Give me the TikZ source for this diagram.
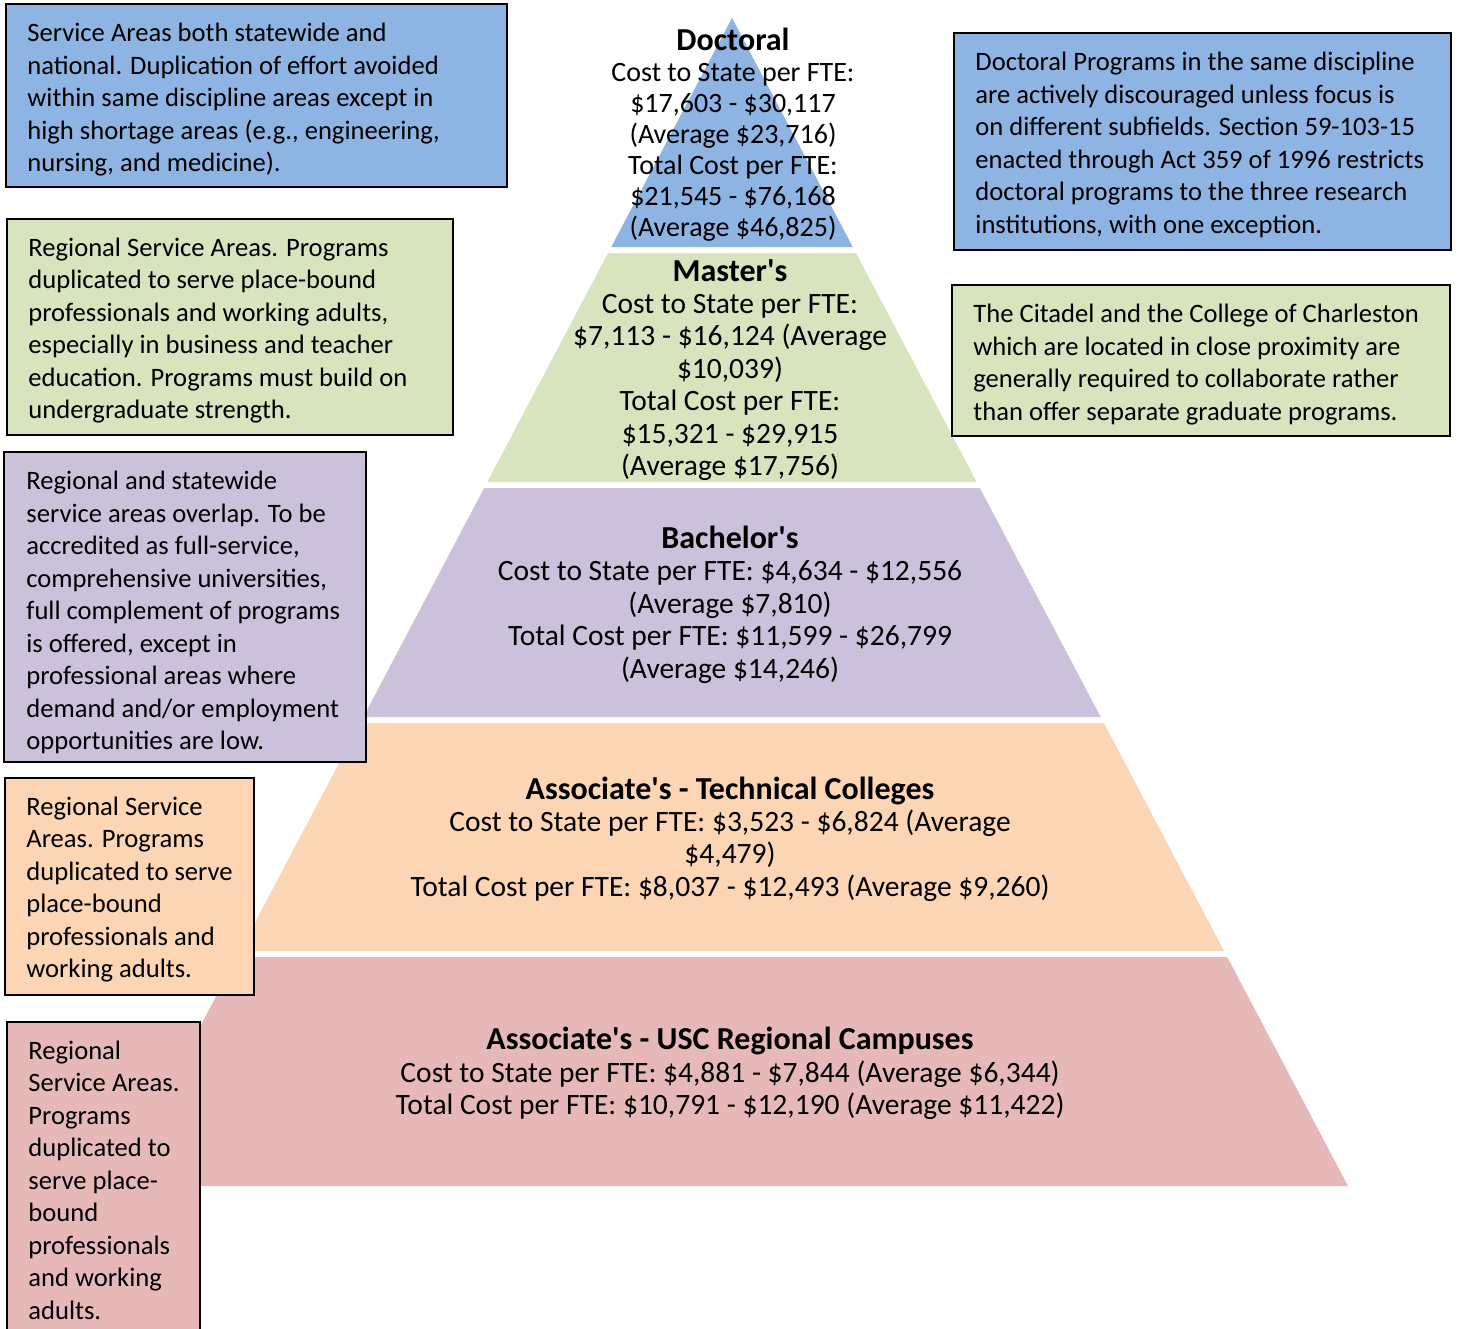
\documentclass[tikz,border=0pt]{standalone}
\usepackage{fontspec}
\newfontfamily\calfont{Carlito}
\definecolor{cblue}{HTML}{8EB4E3}
\definecolor{cgreen}{HTML}{D7E4BD}
\definecolor{cpurple}{HTML}{CCC1DA}
\definecolor{corange}{HTML}{FCD5B5}
\definecolor{cpink}{HTML}{E6B9B8}
\newcommand\pyrlayer[3]{\fill[#3] ({732-0.5274*(#1-18)},#1) -- ({732+0.5274*(#1-18)},#1) -- ({732+0.5274*(#2-18)},#2) -- ({732-0.5274*(#2-18)},#2) -- cycle;}
\begin{document}
\begin{tikzpicture}[x=0.5pt,y=-0.5pt,
  notebox/.style={draw=black, line width=1pt},
  notetext/.style={anchor=north west, inner sep=0pt, align=left, font={\calfont\fontsize{13.3pt}{16.25pt}\selectfont}},
  pyrtext/.style={anchor=center, inner sep=0pt, align=center, font={\calfont\fontsize{14.75pt}{16.2pt}\selectfont}}]
\useasboundingbox (0,0) rectangle (1459,1328);
\clip (0,0) rectangle (1459,1328);
% pyramid
\pyrlayer{18}{247}{cblue}
\pyrlayer{253}{482}{cgreen}
\pyrlayer{488}{717}{cpurple}
\pyrlayer{723}{951}{corange}
\pyrlayer{957}{1186}{cpink}
% pyramid texts
\node[pyrtext, font={\calfont\fontsize{14pt}{15.5pt}\selectfont}] (doc) at (733,135)
  {{\bfseries\fontsize{16pt}{16pt}\selectfont Doctoral}\\Cost to State per FTE:\\\$17,603 - \$30,117\\(Average \$23,716)\\Total Cost per FTE:\\\$21,545 - \$76,168\\(Average \$46,825)};
\node[pyrtext] (mas) at (730,370)
  {{\bfseries\fontsize{16pt}{16.2pt}\selectfont Master's}\\Cost to State per FTE:\\\$7,113 - \$16,124 (Average\\\$10,039)\\Total Cost per FTE:\\\$15,321 - \$29,915\\(Average \$17,756)};
\node[pyrtext] (bac) at (730,604.5)
  {{\bfseries\fontsize{16pt}{16.2pt}\selectfont Bachelor's}\\Cost to State per FTE: \$4,634 - \$12,556\\(Average \$7,810)\\Total Cost per FTE: \$11,599 - \$26,799\\(Average \$14,246)};
\node[pyrtext] (tech) at (730,839)
  {{\bfseries\fontsize{16pt}{16.2pt}\selectfont Associate's - Technical Colleges}\\Cost to State per FTE: \$3,523 - \$6,824 (Average\\\$4,479)\\Total Cost per FTE: \$8,037 - \$12,493 (Average \$9,260)};
\node[pyrtext] (usc) at (730,1073.5)
  {{\bfseries\fontsize{16pt}{16.2pt}\selectfont Associate's - USC Regional Campuses}\\Cost to State per FTE: \$4,881 - \$7,844 (Average \$6,344)\\Total Cost per FTE: \$10,791 - \$12,190 (Average \$11,422)};
% note boxes
\draw[notebox, fill=cblue] (6,4) rectangle (507,187);
\node[notetext] (n1) at (27,23) {Service Areas both statewide and\\national. Duplication of effort avoided\\within same discipline areas except in\\high shortage areas (e.g., engineering,\\nursing, and medicine).};
\draw[notebox, fill=cgreen] (7,219) rectangle (453,435);
\node[notetext] (n2) at (28,237.5) {Regional Service Areas. Programs\\duplicated to serve place-bound\\professionals and working adults,\\especially in business and teacher\\education. Programs must build on\\undergraduate strength.};
\draw[notebox, fill=cpurple] (4,452) rectangle (366,762);
\node[notetext] (n3) at (26,471) {Regional and statewide\\service areas overlap. To be\\accredited as full-service,\\comprehensive universities,\\full complement of programs\\is offered, except in\\professional areas where\\demand and/or employment\\opportunities are low.};
\draw[notebox, fill=corange] (5,778) rectangle (254,995);
\node[notetext] (n4) at (26,796.5) {Regional Service\\Areas. Programs\\duplicated to serve\\place-bound\\professionals and\\working adults.};
\draw[notebox, fill=cpink] (7,1022) rectangle (200,1340);
\node[notetext] (n5) at (28,1040.5) {Regional\\Service Areas.\\Programs\\duplicated to\\serve place-\\bound\\professionals\\and working\\adults.};
\draw[notebox, fill=cblue] (954,33) rectangle (1451,250);
\node[notetext] (n6) at (975,52) {Doctoral Programs in the same discipline\\are actively discouraged unless focus is\\on different subfields. Section 59-103-15\\enacted through Act 359 of 1996 restricts\\doctoral programs to the three research\\institutions, with one exception.};
\draw[notebox, fill=cgreen] (952,285) rectangle (1450,436);
\node[notetext] (n7) at (973,304) {The Citadel and the College of Charleston\\which are located in close proximity are\\generally required to collaborate rather\\than offer separate graduate programs.};
\end{tikzpicture}
\end{document}
